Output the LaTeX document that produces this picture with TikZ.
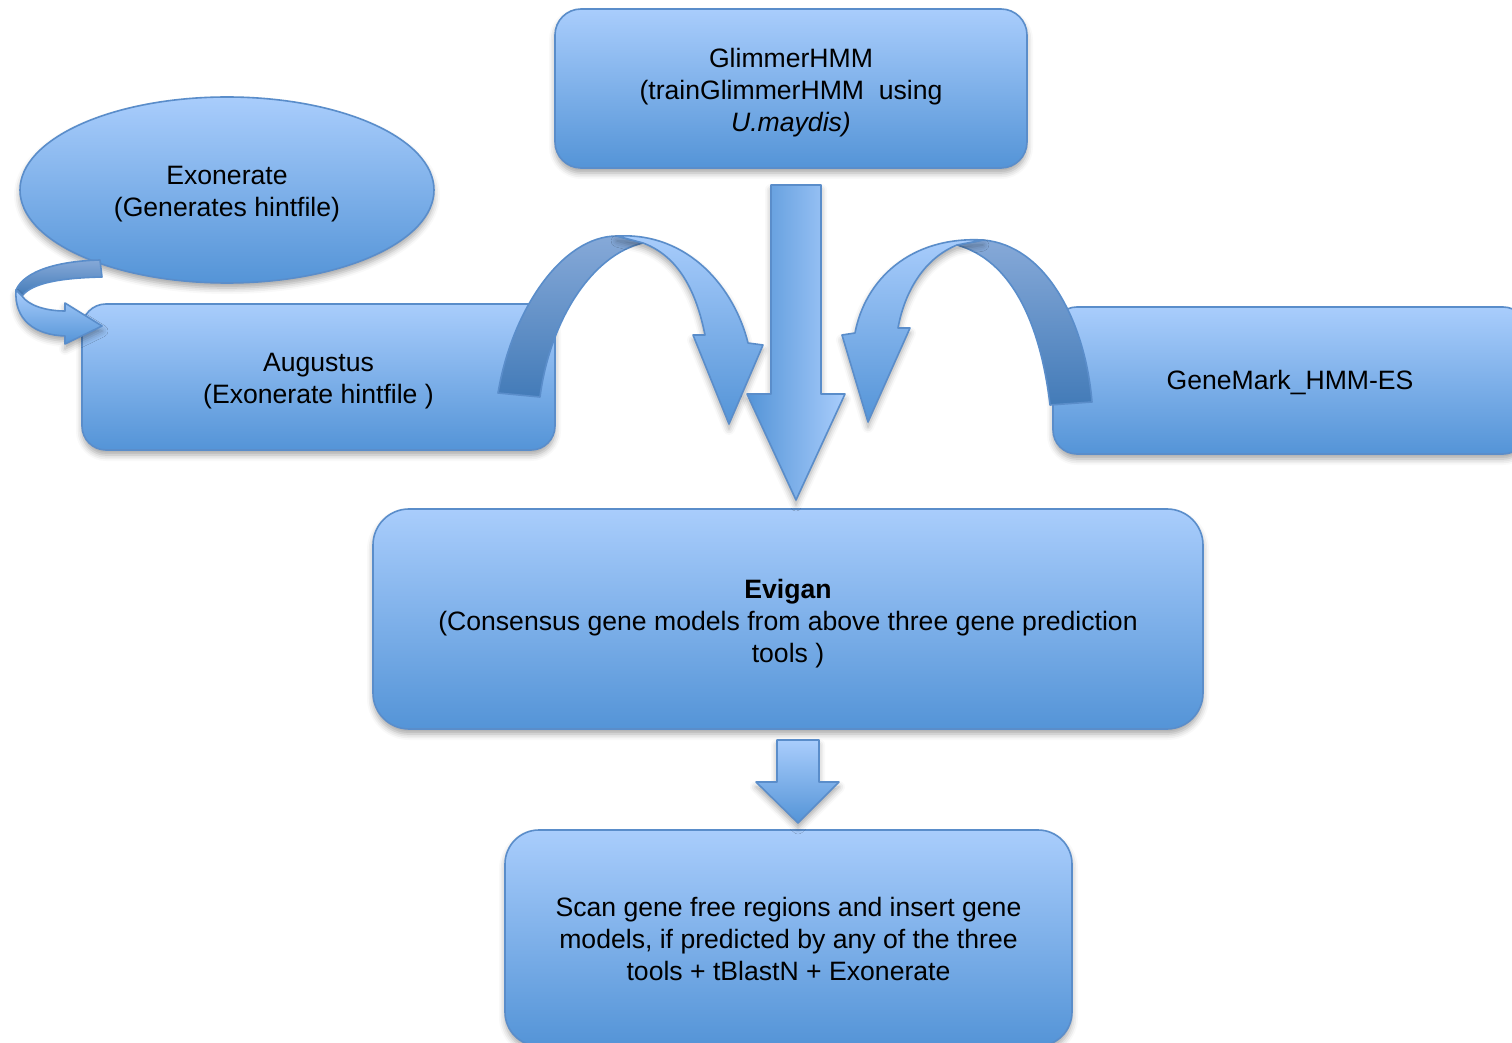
\documentclass[tikz,border=0pt]{standalone}
\usepackage{fontspec}
\setmainfont{Liberation Sans}
\usetikzlibrary{shapes.geometric,shadows.blur}
\definecolor{boxtop}{HTML}{A9CDFC}
\definecolor{boxbot}{HTML}{5494D7}
\definecolor{edgeblue}{HTML}{5A8DCA}
\definecolor{backtop}{HTML}{86A9D8}
\definecolor{backbot}{HTML}{437BB8}
\tikzset{
  softshadow/.style={blur shadow={shadow xshift=0pt,shadow yshift=-2.5pt,shadow blur radius=3pt,shadow opacity=35}},
  box/.style={draw=edgeblue,line width=0.8pt,top color=boxtop,bottom color=boxbot,
    rounded corners=#1,inner sep=0pt,softshadow},
  box/.default=12pt,
  ovalbox/.style={ellipse,draw=edgeblue,line width=0.8pt,top color=boxtop,bottom color=boxbot,
    inner sep=0pt,softshadow},
  txt/.style={align=center,inner sep=0pt,font=\fontsize{13.3}{16}\selectfont},
  blockfront/.style={draw=edgeblue,line width=0.8pt,top color=boxtop,bottom color=boxbot,line join=round,softshadow},
  blockback/.style={draw=edgeblue,line width=0.8pt,top color=backtop,bottom color=backbot,line join=round},
  blockside/.style={draw=edgeblue,line width=0.8pt,left color=boxbot,right color=boxtop,line join=round,softshadow}
}
\begin{document}
\begin{tikzpicture}[x=0.5pt,y=-0.5pt]
\useasboundingbox (0,0) rectangle (1512,1043);
\clip (0,0) rectangle (1512,1043);
% boxes
\node[box=13pt,minimum width=236pt,minimum height=79.5pt] (glim) at (791,88.5) {};
\node[txt] (glimt) at ([yshift=-2pt]glim.center)
  {GlimmerHMM\\(trainGlimmerHMM\ \ using\\\textit{U.maydis)}};
\node[ovalbox,minimum width=207pt,minimum height=93pt] (exo) at (227,190) {};
\node[txt] (exot) at ([yshift=-2pt]exo.center) {Exonerate\\(Generates hintfile)};
\node[box=12pt,minimum width=236.5pt,minimum height=73pt] (aug) at (318.5,377) {};
\node[txt] (augt) at ([yshift=-2pt]aug.center) {Augustus\\(Exonerate hintfile )};
\node[box=12pt,minimum width=237pt,minimum height=73.5pt] (gene) at (1290,380.5) {};
\node[txt] (genet) at ([yshift=-1pt]gene.center) {GeneMark\_HMM-ES};
\node[box=18pt,minimum width=415pt,minimum height=110pt] (evi) at (788,619) {};
\node[txt] (evit) at ([yshift=-2.5pt]evi.center)
  {\textbf{Evigan}\\(Consensus gene models from above three gene prediction\\tools )};
\node[box=17pt,minimum width=283.5pt,minimum height=108pt] (scan) at (788.5,938) {};
\node[txt] (scant) at ([yshift=-0.5pt]scan.center)
  {Scan gene free regions and insert gene\\models, if predicted by any of the three\\tools + tBlastN + Exonerate};
% small U-turn arrow (Exonerate -> Augustus)
\path[blockback] (100,260) -- (102,277) .. controls (60,278) and (32,283) .. (22,296)
  -- (16,290) .. controls (25,270) and (60,261) .. (100,260) -- cycle;
\path[blockfront] (16,290) .. controls (14,320) and (35,335) .. (65,336) -- (65,344) -- (102,326)
  -- (65,303) -- (65,311) .. controls (45,311) and (28,305) .. (22,296) -- cycle;
% left curved arrow (Augustus -> Evigan)
\path[blockback] (498,393) .. controls (512,310) and (562,236) .. (617,236) -- (643,243)
  .. controls (592,255) and (550,320) .. (540,397) -- cycle;
\path[blockfront] (617,236) .. controls (690,232) and (735,290) .. (748,343) -- (763,345) -- (729,424)
  -- (693,335) -- (705,335) .. controls (695,285) and (675,255) .. (643,243) -- cycle;
% right curved arrow (GeneMark -> Evigan)
\path[blockback] (1092,402) .. controls (1085,320) and (1045,245) .. (983,240) -- (957,245)
  .. controls (1010,260) and (1040,320) .. (1050,405) -- cycle;
\path[blockfront] (983,240) .. controls (910,236) and (865,280) .. (855,333) -- (842,335) -- (868,422)
  -- (910,328) -- (898,328) .. controls (905,290) and (925,258) .. (957,245) -- cycle;
% big down arrow (GlimmerHMM -> Evigan)
\path[blockside] (771,185) -- (821,185) -- (821,394) -- (845,394) -- (796,500) -- (747,394) -- (771,394) -- cycle;
% small down arrow (Evigan -> Scan)
\path[blockfront] (777,740) -- (819,740) -- (819,782) -- (839,782) -- (798,823) -- (756,782) -- (777,782) -- cycle;
\end{tikzpicture}
\end{document}
